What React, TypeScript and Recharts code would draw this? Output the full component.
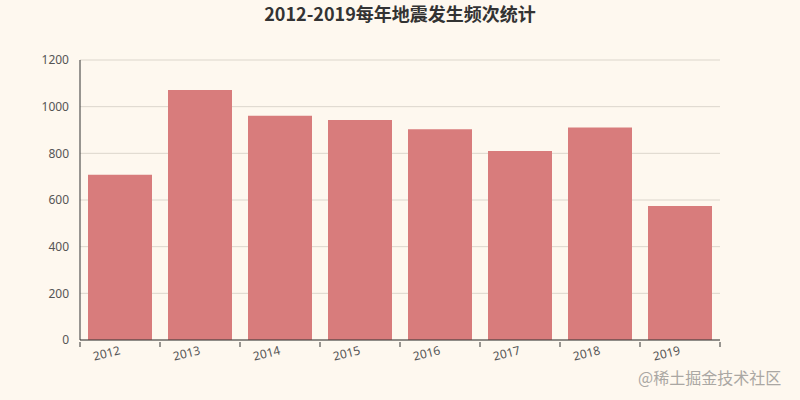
import React from "react";
import { BarChart, Bar, XAxis, YAxis, CartesianGrid } from "recharts";

const years = ["2012", "2013", "2014", "2015", "2016", "2017", "2018", "2019"];
const counts = [708, 1071, 961, 943, 903, 810, 911, 574];
const yTicks = [0, 200, 400, 600, 800, 1000, 1200];
const title = "2012-2019每年地震发生频次统计";
const watermark = "@稀土掘金技术社区";

const data = years.map((y, i) => ({ year: y, count: counts[i] }));

const FONT = "'Noto Sans', 'Noto Sans CJK SC', sans-serif";

const XTick = (props: any) => {
  const { x, y, payload, index } = props;
  const half = payload && payload.offset ? payload.offset : 40;
  const ly = y + 2;
  return (
    <g>
      <line x1={x - half} y1={y - 6} x2={x - half} y2={y - 1} stroke="#333" strokeWidth={1} />
      {index === years.length - 1 && (
        <line x1={x + half} y1={y - 6} x2={x + half} y2={y - 1} stroke="#333" strokeWidth={1} />
      )}
      <text
        x={x}
        y={ly}
        dy="0.35em"
        textAnchor="end"
        fill="#555"
        fontSize={12}
        fontFamily={FONT}
        transform={`rotate(-14, ${x}, ${ly})`}
      >
        {payload.value}
      </text>
    </g>
  );
};

export default function App() {
  return (
    <div
      style={{
        position: "fixed",
        left: 0,
        top: 0,
        width: 800,
        height: 400,
        background: "#fef8ef",
        overflow: "hidden",
      }}
    >
      <div
        style={{
          position: "absolute",
          top: 1,
          left: 0,
          width: 800,
          textAlign: "center",
          fontFamily: "'Noto Sans CJK SC', sans-serif",
          fontWeight: 700,
          fontSize: 18,
          color: "#333",
          lineHeight: "24px",
        }}
      >
        {title}
      </div>
      <BarChart
        width={800}
        height={400}
        data={data}
        margin={{ top: 60, right: 80, bottom: 30, left: 0 }}
        barCategoryGap="10%"
      >
        <CartesianGrid vertical={false} stroke="#dcd6cc" />
        <XAxis
          dataKey="year"
          height={30}
          axisLine={{ stroke: "#333" }}
          tickLine={false}
          tick={<XTick />}
          interval={0}
        />
        <YAxis
          width={80}
          domain={[0, 1200]}
          ticks={yTicks}
          axisLine={{ stroke: "#333" }}
          tickLine={false}
          tickSize={5}
          tickMargin={6}
          tick={{ fill: "#555", fontSize: 12, fontFamily: FONT }}
        />
        <Bar dataKey="count" fill="#d87c7c" isAnimationActive={false} />
      </BarChart>
      <div
        style={{
          position: "absolute",
          left: 638,
          top: 365,
          fontFamily: "'Noto Sans CJK SC', sans-serif",
          fontSize: 16,
          color: "#aaa7a3",
          lineHeight: "24px",
          whiteSpace: "nowrap",
        }}
      >
        {watermark}
      </div>
    </div>
  );
}
